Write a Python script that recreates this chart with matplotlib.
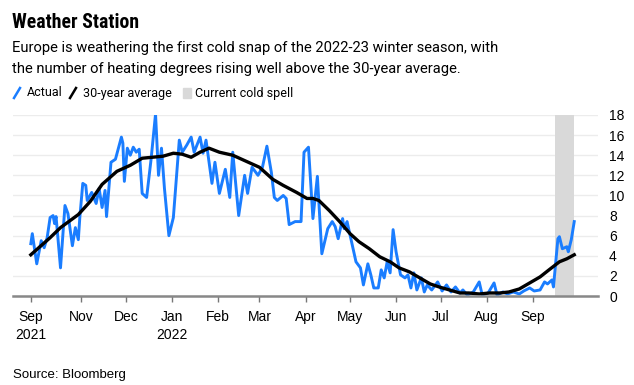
import numpy as np
import matplotlib
matplotlib.use("Agg")
import matplotlib.pyplot as plt
from matplotlib.lines import Line2D
from matplotlib.patches import Rectangle

plt.rcParams["font.family"] = ["Liberation Sans", "DejaVu Sans"]

START = np.datetime64("2021-09-28")

# actual heating degrees (days since START, value)
actual_days = [
    0, 1, 4, 7, 9, 11, 13, 15, 16, 17, 20, 23, 25, 28, 30, 32, 33, 35, 37, 38,
    41, 44, 46, 48, 50, 51, 54, 57, 61, 62, 63, 65, 67, 69, 71, 73, 75, 78, 81, 84,
    86, 88, 90, 93, 96, 100, 102, 105, 108, 110, 114, 116, 118, 122, 124, 127, 131, 134, 136, 140,
    144, 146, 149, 153, 156, 159, 162, 164, 166, 170, 172, 174, 178, 182, 184, 187, 190, 193, 196, 200,
    203, 205, 207, 210, 211, 213, 216, 219, 222, 224, 227, 229, 231, 234, 236, 238, 240, 242, 244, 246,
    249, 252, 254, 256, 258, 260, 263, 265, 267, 270, 274, 277, 280, 283, 286, 289, 291, 294, 298, 302,
    304, 308, 312, 314, 318, 321, 325, 329, 332, 336, 339, 343, 346, 348, 351, 352, 355, 356, 358, 361,
    362, 364, 366,
]
actual_vals = [
    5.2, 6.2, 3.2, 5.5, 4.8, 5.8, 7.8, 8.0, 7.2, 7.9, 2.8, 9.0, 8.2, 5.0, 6.8, 5.6, 7.8, 11.2, 11.0, 9.5,
    10.3, 9.2, 10.7, 8.8, 10.5, 7.9, 13.3, 13.6, 15.8, 15.2, 11.4, 14.7, 14.0, 14.8, 14.3, 14.6, 10.2, 9.8, 13.6, 18.1,
    12.0, 14.7, 10.7, 6.0, 7.8, 15.5, 14.3, 15.0, 15.8, 14.3, 15.8, 14.2, 15.5, 11.2, 13.3, 10.2, 12.6, 9.8, 14.3, 8.0,
    12.0, 10.2, 12.8, 12.0, 12.8, 14.9, 12.3, 9.8, 9.5, 10.0, 9.7, 7.1, 7.4, 7.4, 14.3, 14.8, 7.7, 11.9, 4.2, 6.7,
    7.4, 6.9, 5.7, 7.7, 6.7, 7.4, 5.4, 3.4, 2.8, 1.1, 3.2, 2.1, 0.8, 0.8, 2.6, 1.8, 3.4, 2.3, 6.6, 4.4,
    2.1, 1.8, 2.1, 0.8, 2.3, 0.6, 1.8, 0.4, 1.1, 0.6, 1.4, 0.5, 1.1, 0.4, 0.9, 0.3, 0.6, 0.1, 0.4, 1.4,
    0.1, 0.3, 1.3, 0.1, 0.4, 0.2, 0.4, 0.2, 0.5, 0.8, 0.5, 0.6, 1.4, 1.2, 1.6, 0.9, 5.7, 5.9, 4.7, 4.9,
    4.4, 5.6, 7.4,
]

# 30-year average
avg_days = [
    0, 13, 20, 32, 40, 48, 58, 67, 75, 82, 89, 96, 102, 108, 114, 120, 127, 136, 145, 154,
    163, 170, 179, 186, 190, 194, 201, 208, 215, 221, 228, 235, 242, 248, 255, 262, 269, 275, 282, 289,
    295, 302, 309, 316, 322, 329, 336, 343, 349, 356, 361, 366,
]
avg_vals = [
    4.1, 5.8, 6.8, 8.1, 9.4, 11.1, 12.4, 13.0, 13.7, 13.8, 13.9, 14.2, 14.1, 13.8, 14.3, 14.7, 14.3, 14.0, 13.4, 12.8,
    11.6, 11.0, 10.3, 9.7, 9.7, 9.5, 8.5, 7.4, 6.2, 5.4, 4.7, 3.9, 3.4, 2.8, 2.4, 1.8, 1.2, 0.9, 0.6, 0.3,
    0.3, 0.2, 0.3, 0.3, 0.4, 0.7, 1.3, 1.9, 2.6, 3.4, 3.7, 4.1,
]

spell_start, spell_end = "2022-09-16", "2022-09-29"

tick_dates = ["2021-09-28", "2021-11-01", "2021-12-01", "2022-01-01", "2022-02-01", "2022-03-01",
              "2022-04-01", "2022-05-01", "2022-06-01", "2022-07-01", "2022-08-01", "2022-09-01"]
tick_labels = ["Sep\n2021", "Nov", "Dec", "Jan\n2022", "Feb", "Mar", "Apr", "May", "Jun", "Jul", "Aug", "Sep"]

BLUE = "#1a7dff"
W, H = 634, 385

fig = plt.figure(figsize=(W / 100, H / 100), dpi=100)
ax = fig.add_axes([13 / W, 1 - 296 / H, (598 - 13) / W, (296 - 115) / H])

to_dates = lambda days: START + np.array(days).astype("timedelta64[D]")

ax.axvspan(np.datetime64(spell_start), np.datetime64(spell_end), color="#d9d9d9", lw=0, zorder=1)
ax.plot(to_dates(actual_days), actual_vals, color=BLUE, lw=2.1, zorder=3, solid_joinstyle="round")
ax.plot(to_dates(avg_days), avg_vals, color="black", lw=2.4, zorder=4, solid_joinstyle="round")

ax.set_ylim(0, 18)
ax.set_xlim(START - np.timedelta64(12, "D"), START + np.timedelta64(382, "D"))
ax.set_yticks(range(0, 19, 2))
ax.yaxis.tick_right()
ax.tick_params(axis="y", length=0, pad=8, labelsize=10, labelcolor="black")
ax.grid(axis="y", color="#ececec", lw=1)
ax.set_axisbelow(True)

ax.set_xticks([np.datetime64(d) for d in tick_dates])
ax.set_xticklabels(tick_labels, fontsize=10, linespacing=1.35)
ax.tick_params(axis="x", length=4, width=1, color="#777777", pad=6)

for s in ["top", "left", "right"]:
    ax.spines[s].set_visible(False)
ax.spines["bottom"].set_color("#888888")
ax.spines["bottom"].set_linewidth(1.8)
ax.spines["bottom"].set_zorder(5)

# titles
fig.text(12 / W, 1 - 22 / H, "Weather Station", fontsize=14.2, fontweight="bold",
         family="Roboto Condensed", va="center")
fig.text(12 / W, 1 - 48 / H, "Europe is weathering the first cold snap of the 2022-23 winter season, with",
         fontsize=10.6, family="Roboto", va="center")
fig.text(12 / W, 1 - 69 / H, "the number of heating degrees rising well above the 30-year average.",
         fontsize=10.6, family="Roboto", va="center")

# legend
ly = 1 - 93 / H
for x0, col, label in [(14, BLUE, "Actual"), (70, "black", "30-year average")]:
    fig.add_artist(Line2D([x0 / W, (x0 + 6) / W], [ly - 5 / H, ly + 5 / H], color=col, lw=1.8,
                          transform=fig.transFigure))
    fig.text((x0 + 13) / W, ly, label, fontsize=9.0, family="Roboto", va="center")
fig.add_artist(Rectangle((183 / W, ly - 5 / H), 8 / W, 10 / H, color="#d9d9d9", transform=fig.transFigure))
fig.text(195 / W, ly, "Current cold spell", fontsize=9.0, family="Roboto", va="center")

fig.text(13 / W, 1 - 375 / H, "Source: Bloomberg", fontsize=9.5, va="center")

fig.savefig("out.png", dpi=100)
